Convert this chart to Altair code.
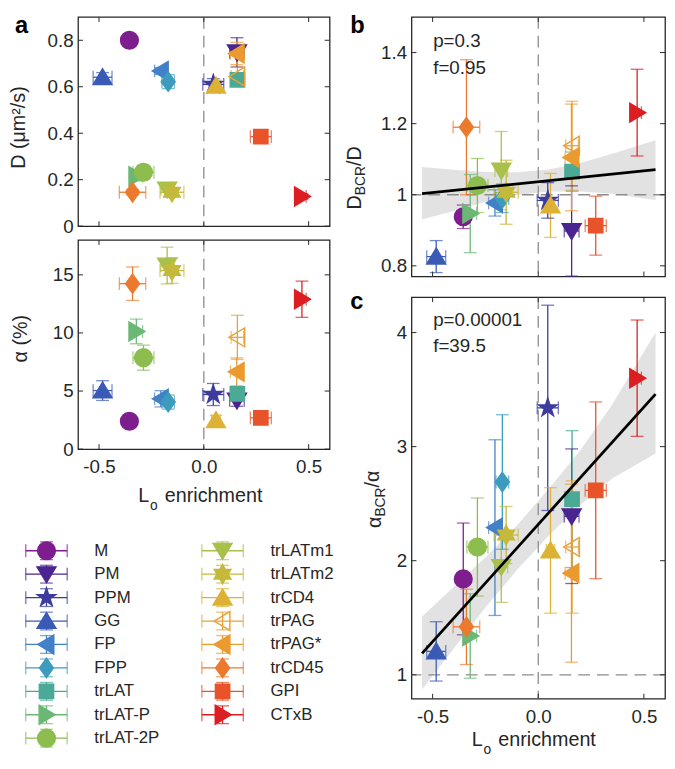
import altair as alt
import pandas as pd

# ---------------- data ----------------
names = ["M", "PM", "PPM", "GG", "FP", "FPP", "trLAT", "trLAT-P", "trLAT-2P",
         "trLATm1", "trLATm2", "trCD4", "trPAG", "trPAG*", "trCD45", "GPI", "CTxB"]
colors = ["#7E1E8E", "#4A2490", "#3D3C9E", "#3A5BB5", "#4280C8", "#3D9CBD",
          "#4BAA96", "#6BB876", "#8CBD4E", "#A9C04A", "#C4B93A", "#DDB234",
          "#E9A23A", "#EB9A30", "#EC7A2E", "#E8532A", "#DC1E22"]
lo_enr = [-0.355, 0.158, 0.045, -0.483, -0.205, -0.170, 0.160, -0.322, -0.288,
          -0.175, -0.152, 0.058, 0.160, 0.157, -0.340, 0.272, 0.468]
lo_err = [0.015, 0.035, 0.050, 0.045, 0.030, 0.030, 0.030, 0.030, 0.050,
          0.030, 0.057, 0.020, 0.030, 0.030, 0.063, 0.050, 0.020]
d_val = [0.800, 0.748, 0.610, 0.641, 0.668, 0.622, 0.630, 0.215, 0.232,
         0.158, 0.146, 0.605, 0.644, 0.743, 0.146, 0.385, 0.128]
d_err = [0.010, 0.063, 0.025, 0.020, 0.015, 0.030, 0.020, 0.020, 0.030,
         0.012, 0.020, 0.012, 0.040, 0.048, 0.012, 0.012, 0.012]
al_val = [2.40, 4.19, 4.70, 5.04, 4.33, 4.05, 4.75, 10.13, 7.87,
          15.80, 15.37, 2.49, 9.62, 6.65, 14.24, 2.69, 12.90]
al_err = [0.15, 0.50, 0.95, 0.85, 0.70, 0.60, 0.60, 1.06, 1.08,
          1.58, 1.10, 0.40, 1.90, 1.20, 1.44, 0.30, 1.56]
dr_val = [0.938, 0.898, 0.984, 0.826, 0.977, 0.990, 1.065, 0.947, 1.026,
          1.068, 1.007, 0.970, 1.138, 1.105, 1.190, 0.913, 1.231]
dr_err = [0.033, 0.127, 0.050, 0.045, 0.037, 0.040, 0.055, 0.110, 0.076,
          0.110, 0.090, 0.090, 0.125, 0.150, 0.190, 0.083, 0.122]
ar_val = [1.84, 2.39, 3.34, 1.205, 2.29, 2.69, 2.54, 1.34, 2.12,
          1.945, 2.225, 2.09, 2.12, 1.89, 1.42, 2.617, 3.60]
ar_err = [0.49, 0.59, 0.90, 0.26, 0.77, 0.59, 0.60, 0.37, 0.43,
          0.31, 0.25, 0.55, 0.58, 0.78, 0.33, 0.775, 0.51]

fit_x = [-0.55, 0.555]
fit_b = [1.003, 1.071]
fit_c = [1.187, 3.46]
band_x = [-0.55, -0.40, -0.25, -0.10, 0.05, 0.20, 0.35, 0.555]
band_b_hi = [1.078, 1.070, 1.064, 1.063, 1.071, 1.089, 1.115, 1.153]
band_b_lo = [0.930, 0.954, 0.980, 0.999, 1.009, 1.009, 1.003, 0.985]
band_c_hi = [1.51, 1.77, 2.03, 2.31, 2.63, 2.97, 3.37, 4.00]
band_c_lo = [0.87, 1.23, 1.59, 1.92, 2.22, 2.49, 2.72, 2.94]

x_ticks = [-0.5, 0, 0.5]
yt_d = [0, 0.2, 0.4, 0.6, 0.8]
yt_al = [0, 5, 10, 15]
yt_dr = [0.8, 1, 1.2, 1.4]
yt_ar = [1, 2, 3, 4]

# ---------------- styling ----------------
FONT = "Liberation Sans"
INK = "#262626"
GRID = "#8c8c8c"
MSIZE = 380
CIRCLE = "M-0.92,0A0.92,0.92,0,1,1,0.92,0A0.92,0.92,0,1,1,-0.92,0Z"
TRI_UP = "M0,-0.88L0.98,0.76L-0.98,0.76Z"
TRI_DN = "M0,0.88L0.98,-0.76L-0.98,-0.76Z"
TRI_LF = "M-0.88,0L0.76,-0.98L0.76,0.98Z"
TRI_RT = "M0.88,0L-0.76,-0.98L-0.76,0.98Z"
DIAM = "M0,-1L0.72,0L0,1L-0.72,0Z"
SQR = "M-0.74,-0.74L0.74,-0.74L0.74,0.74L-0.74,0.74Z"
STAR5 = ("M0,-1L0.2245,-0.309L0.9511,-0.309L0.3633,0.118L0.5878,0.809L0,0.382"
         "L-0.5878,0.809L-0.3633,0.118L-0.9511,-0.309L-0.2245,-0.309Z")
HEX = ("M0,-1L0.2887,-0.5L0.866,-0.5L0.577,0L0.866,0.5L0.2887,0.5L0,1"
       "L-0.2887,0.5L-0.866,0.5L-0.577,0L-0.866,-0.5L-0.2887,-0.5Z")
shapes = [CIRCLE, TRI_DN, STAR5, TRI_UP, TRI_LF, DIAM, SQR, TRI_RT, CIRCLE,
          TRI_DN, HEX, TRI_UP, TRI_LF, TRI_LF, DIAM, SQR, TRI_RT]

cscale = alt.Scale(domain=names, range=colors)
sscale = alt.Scale(domain=names, range=shapes)
LBL = "replace(datum.label, '\u2212', '-')"

df = pd.DataFrame({"name": names, "lo": lo_enr, "lo_err": lo_err,
                   "d": d_val, "d_err": d_err, "al": al_val, "al_err": al_err,
                   "dr": dr_val, "dr_err": dr_err, "ar": ar_val, "ar_err": ar_err})
df["xlo"] = df["lo"] - df["lo_err"]
df["xhi"] = df["lo"] + df["lo_err"]
for v in ["d", "al", "dr", "ar"]:
    df[v + "_lo"] = df[v] - df[v + "_err"]
    df[v + "_hi"] = df[v] + df[v + "_err"]

one = pd.DataFrame({"k": [0]})


def txt(s, x, y, size=20, angle=0, align="left", baseline="alphabetic", weight="normal", color=INK):
    return alt.Chart(one).mark_text(
        text=s, fontSize=size, angle=angle, align=align, baseline=baseline,
        fontWeight=weight, color=color, font=FONT
    ).encode(x=alt.value(x), y=alt.value(y))


def panel(v, ydom, yticks, w, h, xlabels, hline=False, band=None, fit=None):
    xs = alt.Scale(domain=[-0.6, 0.6], nice=False, zero=False)
    ys = alt.Scale(domain=ydom, nice=False, zero=False)
    xax = alt.Axis(values=x_ticks, ticks=False, domain=False, grid=False, labels=xlabels,
                   title=None, labelPadding=9, labelExpr=LBL, labelFontSize=19,
                   labelColor=INK, labelFont=FONT)
    yax = alt.Axis(values=yticks, ticks=False, domain=False, grid=False, title=None,
                   format="~g", labelPadding=5, labelExpr=LBL, labelFontSize=19,
                   labelColor=INK, labelFont=FONT)

    def X(f):
        return alt.X(f, type="quantitative", scale=xs, axis=xax)

    def Y(f):
        return alt.Y(f, type="quantitative", scale=ys, axis=yax)

    col = alt.Color("name:N", scale=cscale, legend=None)
    base = alt.Chart(df)
    layers = []
    if band is not None:
        bdf = pd.DataFrame({"bx": band_x, "blo": band[0], "bhi": band[1]})
        layers.append(alt.Chart(bdf).mark_area(color="#d6d6d6", opacity=0.7)
                      .encode(x=X("bx"), y=Y("blo"), y2="bhi"))
    layers.append(alt.Chart(pd.DataFrame({"z": [0]})).mark_rule(
        color=GRID, strokeDash=[12, 7], strokeWidth=1.3).encode(x=X("z")))
    if hline:
        layers.append(alt.Chart(pd.DataFrame({"o": [1]})).mark_rule(
            color=GRID, strokeDash=[12, 7], strokeWidth=1.3).encode(y=Y("o")))
    layers += [
        base.mark_rule(strokeWidth=1.3).encode(x=X("lo"), y=Y(v + "_lo"), y2=v + "_hi", color=col),
        base.mark_rule(strokeWidth=1.3).encode(x=X("xlo"), x2="xhi", y=Y(v), color=col),
        base.mark_tick(orient="horizontal", size=13, thickness=1.3).encode(x=X("lo"), y=Y(v + "_lo"), color=col),
        base.mark_tick(orient="horizontal", size=13, thickness=1.3).encode(x=X("lo"), y=Y(v + "_hi"), color=col),
        base.mark_tick(orient="vertical", size=13, thickness=1.3).encode(x=X("xlo"), y=Y(v), color=col),
        base.mark_tick(orient="vertical", size=13, thickness=1.3).encode(x=X("xhi"), y=Y(v), color=col),
        base.mark_point(size=MSIZE, strokeWidth=1.5, opacity=1).encode(
            x=X("lo"), y=Y(v),
            shape=alt.Shape("name:N", scale=sscale, legend=None),
            fill=alt.Fill("name:N", scale=cscale, legend=None),
            stroke=alt.Stroke("name:N", scale=cscale, legend=None),
            fillOpacity=alt.condition("datum.name == 'trPAG'", alt.value(0), alt.value(1)),
        ),
    ]
    if fit is not None:
        fdf = pd.DataFrame({"fx": fit_x, "fy": fit})
        layers.append(alt.Chart(fdf).mark_line(color="black", strokeWidth=2.8)
                      .encode(x=X("fx"), y=Y("fy")))
    xt = alt.Chart(pd.DataFrame({"v": x_ticks}))
    yt = alt.Chart(pd.DataFrame({"v": yticks}))
    layers += [
        xt.mark_rule(color=INK, strokeWidth=1).encode(x=X("v"), y=alt.value(h), y2=alt.value(h - 5)),
        xt.mark_rule(color=INK, strokeWidth=1).encode(x=X("v"), y=alt.value(0), y2=alt.value(5)),
        yt.mark_rule(color=INK, strokeWidth=1).encode(y=Y("v"), x=alt.value(0), x2=alt.value(5)),
        yt.mark_rule(color=INK, strokeWidth=1).encode(y=Y("v"), x=alt.value(w), x2=alt.value(w - 5)),
    ]
    return layers


def xtitle(h, dy):
    return [txt("L", 61, h + dy), txt("o", 73, h + dy + 8, size=14),
            txt("enrichment", 88, h + dy)]


VIEW = alt.ViewBackground(stroke=INK, strokeWidth=1.3)

WA, HA = 255, 212
WR, HB, HC = 257, 263, 407

a_top = alt.layer(
    *panel("d", [0, 0.9], yt_d, WA, HA, False),
    txt("a", -64, -3, size=24, weight="bold", color="black", baseline="top"),
    txt("D (\u03bcm\u00b2/s)", -60, 112, angle=270, align="center", baseline="middle"),
).properties(width=WA, height=HA, view=VIEW)

a_bot = alt.layer(
    *panel("al", [0, 18], yt_al, WA, HA, True),
    txt("\u03b1 (%)", -58, 100, angle=270, align="center", baseline="middle"),
    *xtitle(HA, 54),
).properties(width=WA, height=HA, view=VIEW)

p_b = alt.layer(
    *panel("dr", [0.77, 1.5], yt_dr, WR, HB, False, hline=True,
           band=(band_b_lo, band_b_hi), fit=fit_b),
    txt("b", -62, -3, size=24, weight="bold", color="black", baseline="top"),
    txt("p=0.3", 22, 24, size=19, baseline="middle"),
    txt("f=0.95", 22, 52, size=19, baseline="middle"),
    txt("D", -51, 195, angle=270),
    txt("BCR", -47, 180.6, size=14, angle=270),
    txt("/D", -51, 151.1, angle=270),
).properties(width=WR, height=HB, view=VIEW)

p_c = alt.layer(
    *panel("ar", [0.79, 4.31], yt_ar, WR, HC, True, hline=True,
           band=(band_c_lo, band_c_hi), fit=fit_c),
    txt("c", -62, 12, size=24, weight="bold", color="black"),
    txt("p=0.00001", 22, 23, size=19, baseline="middle"),
    txt("f=39.5", 22, 50, size=19, baseline="middle"),
    txt("\u03b1", -31, 234, angle=270),
    txt("BCR", -27, 222.4, size=14, angle=270),
    txt("/\u03b1", -33, 192.9, angle=270),
    *xtitle(HC, 48),
).properties(width=WR, height=HC, view=VIEW)

# ---------------- legend ----------------
LW, LH = 255, 290
leg = pd.DataFrame({"name": names})
leg["cx"] = [-32 if i < 9 else 146.5 for i in range(len(names))]
leg["cy"] = [89 + 23.75 * (i % 9) for i in range(len(names))]
leg["xl"] = leg["cx"] - 21
leg["xr"] = leg["cx"] + 21
leg["yt"] = leg["cy"] - 9
leg["yb"] = leg["cy"] + 9
leg["tx"] = leg["cx"] + 48.5
lxs = alt.Scale(domain=[0, LW], nice=False, zero=False)
lys = alt.Scale(domain=[0, LH], reverse=True, nice=False, zero=False)


def LX(f):
    return alt.X(f, type="quantitative", scale=lxs, axis=None)


def LY(f):
    return alt.Y(f, type="quantitative", scale=lys, axis=None)


lcol = alt.Color("name:N", scale=cscale, legend=None)
lb = alt.Chart(leg)
legend = alt.layer(
    lb.mark_rule(strokeWidth=1.3).encode(x=LX("xl"), x2="xr", y=LY("cy"), color=lcol),
    lb.mark_rule(strokeWidth=1.3).encode(x=LX("cx"), y=LY("yt"), y2="yb", color=lcol),
    lb.mark_tick(orient="vertical", size=13, thickness=1.3).encode(x=LX("xl"), y=LY("cy"), color=lcol),
    lb.mark_tick(orient="vertical", size=13, thickness=1.3).encode(x=LX("xr"), y=LY("cy"), color=lcol),
    lb.mark_tick(orient="horizontal", size=13, thickness=1.3).encode(x=LX("cx"), y=LY("yt"), color=lcol),
    lb.mark_tick(orient="horizontal", size=13, thickness=1.3).encode(x=LX("cx"), y=LY("yb"), color=lcol),
    lb.mark_point(size=MSIZE, strokeWidth=1.5, opacity=1).encode(
        x=LX("cx"), y=LY("cy"),
        shape=alt.Shape("name:N", scale=sscale, legend=None),
        fill=alt.Fill("name:N", scale=cscale, legend=None),
        stroke=alt.Stroke("name:N", scale=cscale, legend=None),
        fillOpacity=alt.condition("datum.name == 'trPAG'", alt.value(0), alt.value(1)),
    ),
    lb.mark_text(align="left", baseline="middle", fontSize=17, color=INK, font=FONT).encode(
        x=LX("tx"), y=LY("cy"), text="name:N"),
).properties(width=LW, height=LH, view=alt.ViewBackground(stroke="transparent"))

left = alt.vconcat(a_top, a_bot, legend, spacing=14, bounds="flush")
right = alt.vconcat(p_b, p_c, spacing=21, bounds="flush")
chart = alt.hconcat(left, right, spacing=10).properties(
    padding=0, background="white"
).configure(font=FONT)

chart.save("out.html", embed_options={"renderer": "svg", "actions": False})
